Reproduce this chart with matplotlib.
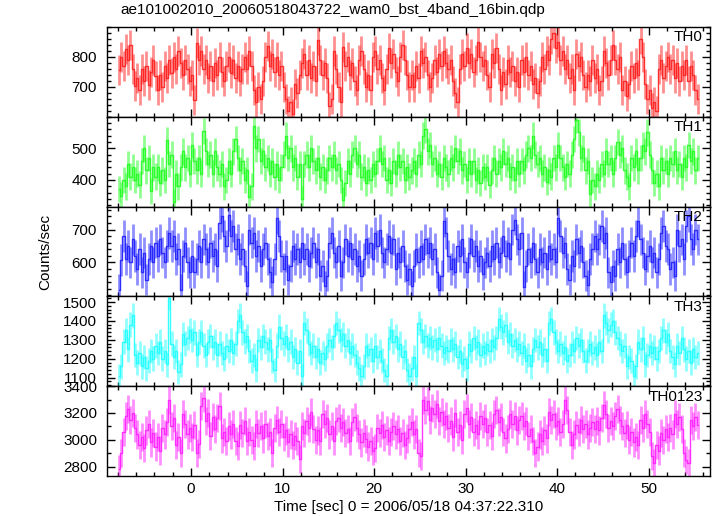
import numpy as np
import matplotlib
matplotlib.use("Agg")
import matplotlib.pyplot as plt
from matplotlib.ticker import MultipleLocator, FixedLocator

plt.rcParams['font.family'] = ['Liberation Sans', 'DejaVu Sans']

# 0.25 s bins (16 x 1/64 s), first bin centre at -7.875 s
bin_width = 0.25
t_start = -7.875

# count rates (counts/sec), 16 bins (4 s) per row
th0 = [
    757, 800, 770, 825, 790, 840, 760, 701, 730, 690, 760, 720, 770, 705, 750, 790,
    735, 690, 740, 700, 770, 730, 790, 745, 800, 760, 820, 780, 740, 790, 760, 720,
    740, 657, 846, 790, 820, 760, 790, 730, 770, 720, 780, 740, 800, 750, 720, 770,
    800, 745, 790, 730, 770, 720, 760, 800, 760, 820, 770, 690, 650, 700, 660, 720,
    800, 835, 770, 810, 750, 800, 740, 770, 700, 660, 620, 650, 610, 710, 680, 740,
    780, 810, 740, 790, 730, 770, 720, 857, 790, 740, 780, 730, 634, 660, 820, 760,
    700, 650, 834, 770, 800, 740, 780, 720, 690, 790, 820, 760, 700, 740, 690, 800,
    820, 760, 790, 730, 690, 760, 830, 780, 810, 750, 720, 800, 840, 790, 740, 700,
    740, 700, 770, 730, 820, 780, 800, 740, 700, 730, 790, 750, 810, 770, 820, 780,
    760, 790, 720, 680, 650, 760, 810, 770, 830, 780, 810, 750, 790, 850, 800, 770,
    790, 740, 700, 810, 780, 830, 760, 690, 750, 710, 790, 750, 770, 720, 750, 700,
    790, 750, 800, 740, 770, 710, 730, 680, 720, 800, 760, 820, 790, 860, 880, 830,
    850, 790, 820, 760, 790, 730, 760, 690, 810, 770, 800, 740, 700, 740, 720, 790,
    730, 760, 690, 720, 820, 780, 740, 790, 840, 790, 760, 800, 690, 720, 670, 710,
    770, 730, 780, 740, 860, 800, 710, 660, 690, 630, 650, 620, 760, 790, 730, 770,
    800, 760, 790, 730, 780, 720, 770, 740, 790, 720, 770, 740, 690, 660,
]

th1 = [
    372, 350, 400, 380, 450, 410, 440, 400, 420, 385, 460, 500, 430, 470, 365, 440,
    410, 440, 390, 430, 400, 525, 450, 480, 330, 420, 380, 440, 490, 440, 470, 420,
    510, 460, 430, 470, 420, 555, 490, 450, 480, 420, 490, 440, 420, 450, 380, 400,
    460, 420, 490, 530, 470, 430, 460, 400, 430, 346, 380, 570, 500, 530, 460, 490,
    440, 470, 420, 460, 410, 450, 400, 440, 480, 540, 470, 500, 440, 470, 410, 450,
    340, 450, 480, 440, 500, 460, 430, 470, 410, 440, 400, 430, 470, 440, 480, 430,
    450, 400, 336, 390, 460, 420, 480, 500, 450, 480, 410, 440, 390, 430, 400, 450,
    420, 460, 500, 450, 470, 400, 430, 390, 460, 420, 480, 440, 460, 400, 440, 410,
    430, 460, 420, 480, 450, 540, 560, 490, 510, 450, 470, 420, 450, 410, 470, 440,
    420, 470, 440, 500, 460, 490, 430, 450, 400, 460, 420, 460, 400, 430, 390, 440,
    410, 440, 385, 430, 470, 420, 460, 440, 490, 450, 470, 410, 440, 400, 460, 420,
    460, 430, 480, 500, 470, 540, 480, 450, 470, 420, 440, 395, 430, 410, 470, 440,
    510, 470, 440, 410, 450, 420, 480, 530, 590, 550, 470, 500, 430, 460, 357, 400,
    380, 420, 400, 450, 420, 490, 450, 470, 420, 470, 520, 480, 500, 430, 410, 380,
    470, 440, 490, 430, 470, 510, 490, 550, 480, 430, 390, 420, 380, 470, 430, 460,
    420, 470, 450, 490, 430, 450, 410, 470, 440, 510, 460, 490, 430, 470,
]

th2 = [
    517, 608, 680, 610, 650, 600, 670, 620, 580, 640, 570, 630, 548, 610, 650, 600,
    660, 620, 670, 630, 600, 650, 690, 650, 680, 610, 640, 517, 620, 660, 600, 570,
    620, 570, 610, 650, 600, 670, 640, 600, 660, 620, 640, 590, 720, 740, 680, 650,
    745, 680, 710, 640, 670, 610, 640, 590, 527, 700, 660, 690, 620, 650, 590, 640,
    660, 610, 570, 540, 610, 735, 680, 620, 580, 620, 548, 590, 650, 610, 640, 600,
    660, 610, 640, 590, 630, 660, 600, 640, 560, 590, 527, 560, 660, 690, 630, 600,
    650, 560, 600, 670, 620, 660, 610, 640, 590, 620, 560, 610, 670, 630, 660, 610,
    690, 650, 700, 630, 600, 640, 680, 630, 670, 580, 630, 600, 650, 590, 548, 580,
    527, 590, 640, 600, 650, 610, 670, 630, 660, 610, 640, 570, 517, 560, 725, 690,
    620, 580, 610, 570, 650, 620, 670, 600, 570, 630, 670, 620, 650, 590, 620, 565,
    600, 630, 590, 650, 610, 660, 600, 630, 680, 620, 660, 610, 700, 730, 670, 640,
    690, 525, 590, 640, 600, 660, 610, 570, 640, 600, 630, 580, 650, 610, 640, 600,
    735, 680, 630, 660, 580, 548, 620, 590, 670, 630, 650, 600, 560, 530, 610, 640,
    680, 640, 670, 710, 660, 690, 570, 540, 590, 560, 640, 600, 660, 610, 570, 620,
    660, 620, 680, 725, 670, 630, 580, 620, 650, 600, 630, 570, 610, 690, 710, 650,
    640, 580, 600, 560, 700, 650, 670, 610, 710, 740, 670, 640, 700, 670,
]

th3 = [
    1108, 1160, 1290, 1350, 1250, 1380, 1430, 1220, 1180, 1230, 1160, 1210, 1150, 1190, 1240, 1200,
    1270, 1230, 1290, 1200, 1240, 1170, 1521, 1280, 1210, 1240, 1130, 1170, 1330, 1280, 1310, 1350,
    1300, 1340, 1220, 1290, 1340, 1270, 1220, 1290, 1320, 1260, 1290, 1220, 1280, 1230, 1200, 1270,
    1240, 1300, 1230, 1280, 1400, 1430, 1340, 1290, 1320, 1240, 1190, 1220, 1140, 1300, 1260, 1320,
    1290, 1250, 1300, 1190, 1140, 1270, 1370, 1310, 1280, 1320, 1250, 1290, 1210, 1250, 1180, 1240,
    1108, 1390, 1350, 1280, 1230, 1270, 1210, 1250, 1180, 1230, 1200, 1270, 1300, 1260, 1320, 1390,
    1350, 1300, 1330, 1270, 1300, 1230, 1270, 1220, 1180, 1150, 1108, 1160, 1270, 1220, 1250, 1190,
    1270, 1210, 1240, 1190, 1140, 1108, 1310, 1350, 1290, 1320, 1250, 1280, 1210, 1240, 1140, 1110,
    1150, 1210, 1108, 1390, 1350, 1290, 1320, 1270, 1310, 1260, 1300, 1250, 1310, 1270, 1230, 1260,
    1240, 1300, 1250, 1280, 1210, 1240, 1170, 1200, 1150, 1280, 1240, 1310, 1260, 1290, 1220, 1270,
    1230, 1280, 1240, 1300, 1260, 1310, 1410, 1370, 1340, 1380, 1290, 1330, 1270, 1300, 1250, 1280,
    1230, 1270, 1190, 1220, 1160, 1250, 1300, 1260, 1290, 1220, 1250, 1190, 1390, 1410, 1340, 1290,
    1240, 1280, 1230, 1260, 1190, 1220, 1280, 1240, 1310, 1270, 1300, 1240, 1190, 1240, 1280, 1230,
    1260, 1220, 1290, 1240, 1430, 1390, 1350, 1380, 1400, 1340, 1310, 1280, 1240, 1270, 1160, 1210,
    1190, 1108, 1160, 1290, 1250, 1310, 1170, 1220, 1270, 1230, 1260, 1200, 1240, 1310, 1350, 1290,
    1330, 1240, 1210, 1170, 1270, 1230, 1310, 1250, 1200, 1240, 1180, 1250, 1210, 1230,
]

th0123 = [
    2780, 2904, 3060, 3180, 3230, 3150, 3200, 3090, 3040, 2960, 3020, 2940, 3070, 3120, 2980, 3050,
    2950, 3020, 2920, 3090, 3040, 3130, 3300, 3100, 3160, 2960, 3020, 2904, 3190, 3120, 3040, 3090,
    3020, 3110, 2904, 2970, 3250, 3310, 3140, 3200, 3030, 3170, 3080, 3160, 3250, 3010, 3060, 2990,
    3100, 3040, 3120, 2990, 2954, 3110, 3050, 3140, 2990, 3060, 3000, 2954, 3120, 3050, 3100, 3010,
    3120, 3030, 3060, 2904, 3090, 3150, 3060, 3120, 3020, 3070, 2980, 3040, 2960, 3030, 2990, 2854,
    3100, 3050, 3140, 3090, 3210, 3080, 3000, 3070, 2990, 3190, 3120, 3160, 3040, 3100, 2990, 3140,
    3160, 3090, 3130, 3050, 3080, 2990, 3130, 3170, 3090, 3040, 2980, 3050, 3003, 2950, 2990, 2920,
    2940, 3090, 3050, 3110, 3020, 3070, 2990, 3060, 3100, 3040, 3080, 2990, 3050, 2960, 3010, 3080,
    3130, 3040, 3080, 2900, 2879, 3300, 3220, 3290, 3150, 3240, 3190, 3270, 3140, 3210, 3120, 3180,
    3090, 3140, 3020, 3200, 3060, 3110, 3000, 3190, 3240, 3120, 3170, 3060, 3110, 3040, 3180, 3120,
    3160, 3060, 3110, 3030, 3190, 3220, 3130, 3170, 3060, 3010, 3080, 3190, 3120, 3180, 3070, 3150,
    3180, 3100, 3140, 3030, 3080, 2990, 2904, 2950, 3040, 2990, 3070, 3010, 3210, 3150, 3190, 3100,
    3140, 3060, 3120, 3300, 3220, 3060, 2960, 3040, 3110, 3060, 3150, 3080, 3120, 3040, 3090, 3130,
    3080, 3140, 3070, 3160, 3260, 3190, 3090, 3140, 3100, 3180, 3230, 3150, 3100, 3050, 3110, 3000,
    3060, 2980, 3020, 2960, 3150, 3090, 3190, 3120, 3060, 2880, 2830, 2960, 2920, 3050, 3000, 3080,
    3020, 3090, 3040, 3190, 3120, 3170, 3080, 2900, 2850, 2830, 3150, 3100, 3170, 3110,
]

# typical 1-sigma error of one bin
errors = [50, 42, 48, 65, 105]

names = ["TH0", "TH1", "TH2", "TH3", "TH0123"]
series = [th0, th1, th2, th3, th0123]
colors = ["#ff2020", "#20ff20", "#2020ff", "#20ffff", "#ff20ff"]
ylims = [(600, 900), (316, 600), (497, 770), (1055, 1530), (2730, 3400)]
ylabels = [[700, 800], [400, 500], [600, 700],
           [1100, 1200, 1300, 1400, 1500], [2800, 3000, 3200, 3400]]
yminor = [20, 20, 20, 20, 100]

fig, axes = plt.subplots(5, 1, sharex=True, figsize=(7.17, 5.16), dpi=100)
fig.subplots_adjust(left=0.149, right=0.990, bottom=0.0775, top=0.948, hspace=0)

for i, ax in enumerate(axes):
    rate = np.array(series[i], dtype=float)
    t = t_start + bin_width * np.arange(len(rate))
    ax.errorbar(t, rate, yerr=errors[i], fmt="none", ecolor=colors[i], alpha=0.5,
                elinewidth=2.0, capsize=0)
    ax.step(t, rate, where="mid", color=colors[i], lw=1.0, alpha=0.9)

    ax.set_ylim(*ylims[i])
    ax.set_xlim(-9.2, 56.7)
    ax.yaxis.set_major_locator(FixedLocator(ylabels[i]))
    ax.yaxis.set_minor_locator(MultipleLocator(yminor[i]))
    ax.xaxis.set_major_locator(MultipleLocator(10))
    ax.xaxis.set_minor_locator(MultipleLocator(2))
    ax.tick_params(which="both", direction="in", top=True, right=True,
                   labelsize=11, width=1.0)
    ax.tick_params(which="major", length=6)
    ax.tick_params(which="minor", length=3)
    ax.tick_params(axis="y", pad=7)
    ax.tick_params(axis="x", pad=4)
    for s in ax.spines.values():
        s.set_linewidth(1.0)
    ax.text(0.988, 0.883, names[i], transform=ax.transAxes, ha="right",
            va="center", fontsize=11)

fig.text(120 / 717, 1 - 10 / 516, "ae101002010_20060518043722_wam0_bst_4band_16bin.qdp",
         ha="left", va="center", fontsize=11)
fig.text(409 / 717, 1 - 507 / 516, "Time [sec] 0 = 2006/05/18 04:37:22.310",
         ha="center", va="center", fontsize=11)
fig.text(45 / 717, 1 - 252 / 516, "Counts/sec", rotation=90,
         ha="center", va="center", fontsize=11)

fig.savefig("out.png", dpi=100)
